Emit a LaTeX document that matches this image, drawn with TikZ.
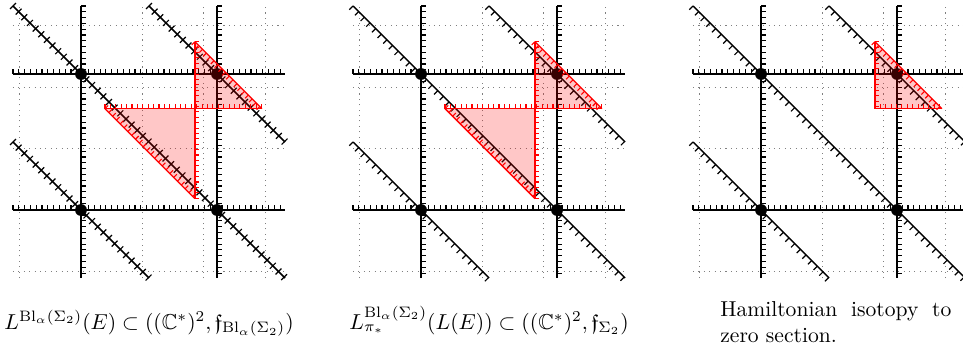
\documentclass[tikz,border=0pt]{standalone}
\usepackage{amsmath,amssymb}
\usetikzlibrary{decorations.markings}
\tikzset{
  gridline/.style={dotted, gray, line width=0.5pt},
  axistick/.style={line width=0.75pt, postaction={decorate},
    decoration={markings, mark=between positions 0 and 1 step 2.69pt with {\draw[line width=0.55pt, black] (0,0) -- (0,2.5pt);}}},
  diagboth/.style={line width=0.75pt, postaction={decorate},
    decoration={markings, mark=between positions 0 and 1 step 3.7pt with {\draw[line width=0.55pt, black] (0,-1.9pt) -- (0,1.9pt);}}},
  diaglow/.style={line width=0.65pt, postaction={decorate},
    decoration={markings, mark=between positions 0 and 1 step 3.7pt with {\draw[line width=0.55pt, black] (0,0) -- (0,-2.4pt);}}},
  redleft/.style={draw=red, line width=0.6pt, postaction={decorate},
    decoration={markings, mark=between positions 0 and 1 step 2.5pt with {\draw[line width=0.5pt, red] (0,0) -- (0,2.1pt);}}},
  redright/.style={draw=red, line width=0.6pt, postaction={decorate},
    decoration={markings, mark=between positions 0 and 1 step 2.5pt with {\draw[line width=0.5pt, red] (0,0) -- (0,-2.1pt);}}},
  pinkfill/.style={fill=red, fill opacity=0.22, draw=none},
  dotnode/.style={circle, fill=black, inner sep=0pt, minimum size=5.5pt},
  caption/.style={inner sep=0pt, font=\normalsize},
}
\newcommand{\mypanelgrid}[2]{%
  \draw[gridline] (-1,-1) grid (3,3);
  \draw[axistick] (-1,0) -- (3,0);
  \draw[axistick] (-1,2) -- (3,2);
  \draw[axistick] (0,3) -- (0,-1);
  \draw[axistick] (2,3) -- (2,-1);
  \draw[#1] (-1,1) -- (1,-1);
  \draw[#1] (-1,3) -- (3,-1);
  \draw[#1] (1,3) -- (3,1);
  \node[dotnode] (#2a) at (0,0) {};
  \node[dotnode] (#2b) at (2,0) {};
  \node[dotnode] (#2c) at (0,2) {};
  \node[dotnode] (#2d) at (2,2) {};
}
\newcommand{\mybothtriangles}{%
  \fill[pinkfill] (0.353,1.49) -- (1.675,1.49) -- (1.675,0.168) -- cycle;
  \fill[pinkfill] (1.675,2.475) -- (1.675,1.49) -- (2.66,1.49) -- cycle;
  \path[redleft] (0.353,1.49) -- (2.66,1.49);
  \path[redleft] (1.675,2.475) -- (1.675,0.168);
  \path[redleft] (0.353,1.49) -- (1.675,0.168);
  \path[redright] (1.675,2.475) -- (2.66,1.49);
}
\begin{document}
\begin{tikzpicture}[x=31.5pt, y=31.5pt]
\useasboundingbox (-1.191,-2.118) rectangle (12.97,3.088);
% panel 1
\begin{scope}
  \mypanelgrid{diagboth}{p}
  \mybothtriangles
\end{scope}
% panel 2
\begin{scope}[xshift=5*31.5pt]
  \mypanelgrid{diaglow}{q}
  \mybothtriangles
\end{scope}
% panel 3
\begin{scope}[xshift=10*31.5pt]
  \mypanelgrid{diaglow}{r}
  \fill[pinkfill] (1.675,2.475) -- (1.675,1.49) -- (2.66,1.49) -- cycle;
  \path[redleft] (1.675,1.49) -- (2.66,1.49);
  \path[redleft] (1.675,2.475) -- (1.675,1.49);
  \path[redright] (1.675,2.475) -- (2.66,1.49);
\end{scope}
\node[caption, anchor=base] (cap1) at (1,-1.75)
  {$L^{\mathrm{Bl}_\alpha(\Sigma_2)}(E)\subset((\mathbb{C}^*)^2,\mathfrak{f}_{\mathrm{Bl}_\alpha(\Sigma_2)})$};
\node[caption, anchor=base] (cap2) at (6,-1.75)
  {$L^{\mathrm{Bl}_\alpha(\Sigma_2)}_{\pi_*}(L(E))\subset((\mathbb{C}^*)^2,\mathfrak{f}_{\Sigma_2})$};
\node[caption, anchor=north, text width=107pt, align=justify] (cap3) at (11.1,-1.34)
  {Hamiltonian isotopy to zero section.};
\end{tikzpicture}
\end{document}
